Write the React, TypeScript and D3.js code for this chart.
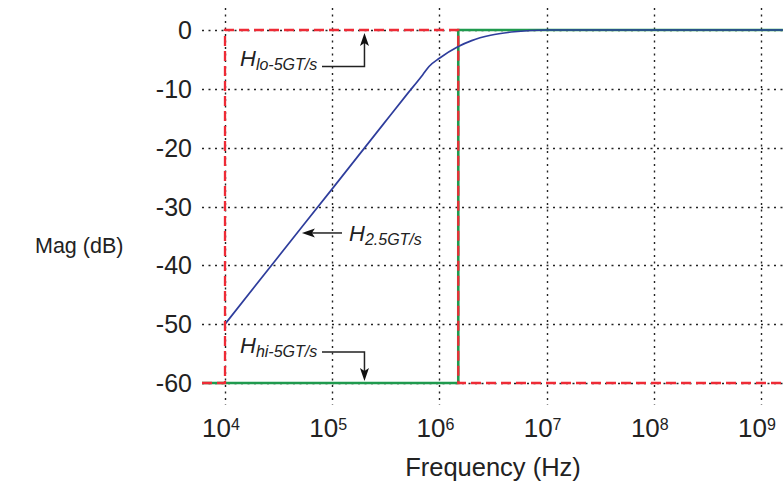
import React from "react";
import * as d3 from "d3";

// ---- data ----
const xTickExponents = [4, 5, 6, 7, 8, 9];
const yTicks = [0, -10, -20, -30, -40, -50, -60];

// H_2.5GT/s response (frequency Hz, magnitude dB)
const blueFreq = [1e4, 3e4, 1e5, 3e5, 5e5, 7e5, 8e5, 1e6, 1.5e6, 2e6, 3e6, 5e6, 1e7, 1.6e9];
const blueMag = [-50, -39, -27, -16, -10.9, -7.6, -6.2, -4.8, -2.8, -1.8, -0.9, -0.3, 0, 0];

// H_hi-5GT/s (green, solid)
const greenFreq = [6.1e3, 1.5e6, 1.5e6, 1.6e9];
const greenMag = [-60, -60, 0, 0];

// H_lo-5GT/s (red, dashed)
const redFreq = [6.1e3, 1e4, 1e4, 1.5e6, 1.5e6, 1.6e9];
const redMag = [-60, -60, 0, 0, -60, -60];

const W = 783;
const H = 488;

export default function App() {
  const x = d3.scaleLog().domain([1e4, 1e9]).range([225, 761]);
  const y = d3.scaleLinear().domain([0, -60]).range([30, 383]);

  const gridLeft = 202;
  const gridRight = W;
  const gridTop = 8;
  const gridBottom = 405;

  const mk = (fs: number[], ms: number[], curve: any) =>
    d3
      .line<number>()
      .x((i) => Math.min(Math.max(x(fs[i]), gridLeft), W + 5))
      .y((i) => y(ms[i]))
      .curve(curve)(fs.map((_, i) => i)) as string;

  const bluePath = mk(blueFreq, blueMag, d3.curveMonotoneX);
  const greenPath = mk(greenFreq, greenMag, d3.curveLinear);
  const redPath = mk(redFreq, redMag, d3.curveLinear);

  const font = "'Liberation Sans', Arial, Helvetica, sans-serif";

  // annotation anchors
  const loTipX = x(2e5);
  const loTipY = y(0) + 3;
  const hiTipX = x(2e5);
  const hiTipY = y(-60) - 2;
  const bTipX = x(5e4) + 2;
  const bTipY = y(-34.5);

  const arrowUp = (tx: number, ty: number) =>
    `M${tx},${ty} L${tx - 4.5},${ty + 13} L${tx},${ty + 10} L${tx + 4.5},${ty + 13} Z`;
  const arrowDown = (tx: number, ty: number) =>
    `M${tx},${ty} L${tx - 4.5},${ty - 13} L${tx},${ty - 10} L${tx + 4.5},${ty - 13} Z`;
  const arrowLeft = (tx: number, ty: number) =>
    `M${tx},${ty} L${tx + 13},${ty - 4.5} L${tx + 10},${ty} L${tx + 13},${ty + 4.5} Z`;

  const px = (v: number) => Math.round(v) + 0.5;

  return (
    <svg
      width={W}
      height={H}
      style={{ position: "absolute", left: 0, top: 0, background: "#fff" }}
      fontFamily={font}
    >
      <rect x={0} y={0} width={W} height={H} fill="#fff" />
      {/* grid */}
      <g stroke="#222" strokeWidth={1.4} strokeDasharray="2,4.5">
        {yTicks.map((t) => (
          <line key={"h" + t} x1={gridLeft} x2={gridRight} y1={px(y(t))} y2={px(y(t))} />
        ))}
        {xTickExponents.map((e) => (
          <line
            key={"v" + e}
            x1={px(x(Math.pow(10, e)))}
            x2={px(x(Math.pow(10, e)))}
            y1={gridTop}
            y2={gridBottom}
          />
        ))}
      </g>

      {/* curves */}
      <path d={greenPath} fill="none" stroke="#1f9a4e" strokeWidth={2.6} />
      <path d={bluePath} fill="none" stroke="#2e3d9c" strokeWidth={1.7} />
      <path
        d={redPath}
        fill="none"
        stroke="#ee2b36"
        strokeWidth={2.3}
        strokeDasharray="10,5"
      />

      {/* y tick labels */}
      <g fontSize={25} fill="#222" textAnchor="end">
        {yTicks.map((t) => (
          <text key={"yt" + t} x={192} y={y(t)} dy="0.36em">
            {t}
          </text>
        ))}
      </g>

      {/* x tick labels */}
      <g fill="#222">
        {xTickExponents.map((e) => (
          <text
            key={"xt" + e}
            x={x(Math.pow(10, e)) - 4}
            y={437}
            fontSize={26}
            textAnchor="middle"
          >
            10
            <tspan fontSize={16} dy={-7}>
              {e}
            </tspan>
          </text>
        ))}
      </g>

      {/* axis titles */}
      <text x={493} y={476} fontSize={25.5} fill="#222" textAnchor="middle">
        Frequency (Hz)
      </text>
      <text x={35} y={253} fontSize={21.5} fill="#222">
        Mag (dB)
      </text>

      {/* annotations */}
      <g fill="#222" stroke="none" fontStyle="italic">
        <text x={240} y={66} fontSize={22}>
          H
          <tspan fontSize={16} dy={4}>
            lo-5GT/s
          </tspan>
        </text>
        <text x={240} y={353} fontSize={22}>
          H
          <tspan fontSize={16} dy={4}>
            hi-5GT/s
          </tspan>
        </text>
        <text x={349} y={241} fontSize={22}>
          H
          <tspan fontSize={16} dy={4}>
            2.5GT/s
          </tspan>
        </text>
      </g>
      <g stroke="#222" strokeWidth={1.5} fill="none">
        <polyline points={`322,66.5 ${loTipX},66.5 ${loTipX},${loTipY + 10}`} />
        <polyline points={`322,352 ${hiTipX},352 ${hiTipX},${hiTipY - 10}`} />
        <line x1={342} y1={bTipY} x2={bTipX + 10} y2={bTipY} />
      </g>
      <g fill="#111" stroke="none">
        <path d={arrowUp(loTipX, loTipY)} />
        <path d={arrowDown(hiTipX, hiTipY)} />
        <path d={arrowLeft(bTipX, bTipY)} />
      </g>
    </svg>
  );
}
